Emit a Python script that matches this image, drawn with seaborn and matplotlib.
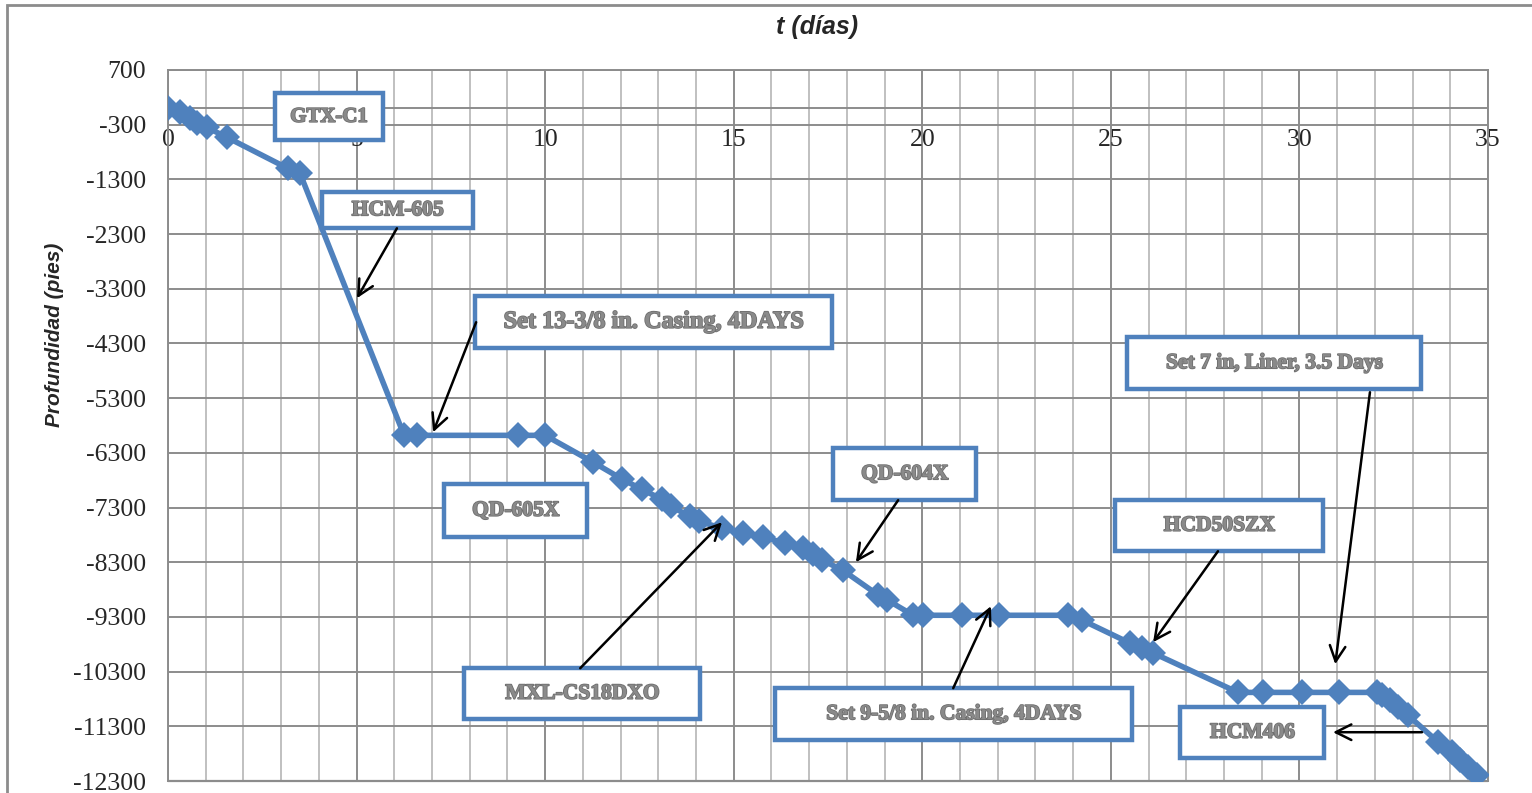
import numpy as np
import pandas as pd
import matplotlib
matplotlib.use("Agg")
import matplotlib.pyplot as plt
import seaborn as sns
from matplotlib.ticker import MultipleLocator, FixedLocator
from matplotlib.patches import Rectangle
import matplotlib.patheffects as pe

# ---- data ----
t_days = [0.0, 0.32, 0.58, 0.77, 1.03, 1.56, 3.18, 3.5,
          6.26, 6.6, 9.28, 10.0,
          11.27, 12.04, 12.57, 13.1, 13.34, 13.84, 14.08, 14.69, 15.25, 15.78,
          16.36, 16.84, 17.1, 17.34, 17.9,
          18.83, 19.07, 19.76, 20.02, 21.05, 22.04, 23.87, 24.24,
          25.51, 25.83, 26.12,
          28.37, 29.04, 30.07, 31.05, 32.06, 32.2, 32.4, 32.62, 32.88,
          33.68, 34.05, 34.27, 34.47, 34.7]
depth_ft = [0, -70, -180, -260, -350, -530, -1100, -1190,
            -5980, -5980, -5980, -5980,
            -6470, -6780, -6970, -7150, -7280, -7460, -7550, -7680, -7770, -7840,
            -7950, -8040, -8150, -8260, -8450,
            -8900, -8990, -9270, -9270, -9270, -9270, -9270, -9360,
            -9780, -9870, -9960,
            -10680, -10680, -10680, -10680, -10680, -10730, -10820, -10950, -11100,
            -11590, -11770, -11920, -12050, -12190]

x_ticks = [0, 5, 10, 15, 20, 25, 30, 35]
y_ticks = [700, -300, -1300, -2300, -3300, -4300, -5300, -6300, -7300,
           -8300, -9300, -10300, -11300, -12300]

labels = ["GTX-C1", "HCM-605", "Set 13-3/8 in. Casing, 4DAYS", "QD-605X",
          "MXL-CS18DXO", "QD-604X", "Set 9-5/8 in. Casing, 4DAYS", "HCD50SZX",
          "Set 7 in, Liner, 3.5 Days", "HCM406"]
label_sizes = [15, 15.5, 17.5, 15.5, 15.5, 15.5, 15.5, 15.5, 15.5, 15.5]

# label boxes (t0, t1, d_top, d_bottom) in data units
boxes = [(2.84, 5.70, 274, -585),
         (4.08, 8.09, -1536, -2194),
         (8.14, 17.61, -3437, -4388),
         (7.32, 11.11, -6874, -7843),
         (7.85, 14.11, -10238, -11170),
         (17.63, 21.43, -6216, -7166),
         (16.10, 25.56, -10603, -11554),
         (25.11, 30.63, -7166, -8099),
         (25.43, 33.23, -4186, -5137),
         (26.84, 30.66, -10951, -11883)]

# arrows (start, tip) in data units; None means no arrow
arrows = [None,
          ((6.07, -2194), (5.01, -3473)),
          ((8.17, -3912), (7.03, -5923)),
          None,
          ((10.93, -10238), (14.69, -7569)),
          ((19.36, -7166), (18.24, -8300)),
          ((20.82, -10603), (21.82, -9104)),
          ((27.84, -8099), (26.12, -9762)),
          ((31.87, -5192), (30.95, -10165)),
          ((33.25, -11408), (30.89, -11408))]

df = pd.DataFrame({"t": t_days, "depth": depth_ft})

BLUE = "#4F81BD"
sns.set_style("white")
plt.rcParams["font.family"] = ["Liberation Serif", "DejaVu Serif"]

fig = plt.figure(figsize=(15.32, 7.93), dpi=100)
ax = fig.add_axes([168 / 1532, 1 - 781 / 793, (1488 - 168) / 1532, (781 - 70) / 793])

# grid
ax.set_xlim(0, 35)
ax.set_ylim(-12300, 700)
ax.xaxis.set_major_locator(FixedLocator(x_ticks))
ax.xaxis.set_minor_locator(MultipleLocator(1))
ax.yaxis.set_major_locator(FixedLocator(y_ticks))
ax.grid(which="major", axis="both", color="#8C8C8C", lw=1.4, zorder=0)
ax.grid(which="minor", axis="x", color="#C0C0C0", lw=1.4, zorder=0)
ax.axhline(0, color="#8C8C8C", lw=1.4, zorder=1)
ax.set_axisbelow(True)
for s in ax.spines.values():
    s.set_color("#8C8C8C")
    s.set_linewidth(1.4)
ax.spines["bottom"].set_visible(False)
ax.axhline(-12300, color="#8C8C8C", lw=1.6, clip_on=False)

ax.tick_params(axis="x", which="both", length=0, pad=15, labelsize=18.5)
ax.tick_params(axis="y", which="major", length=6, width=1.4, color="#8C8C8C",
               pad=10, labelsize=18.5)
ax.set_xticklabels([str(v) for v in x_ticks])
ax.set_yticklabels([str(v) for v in y_ticks])
# put x labels just below the zero line
ax.xaxis.set_ticks_position("bottom")
ax.spines["bottom"].set_position(("data", 0))

sns.lineplot(data=df, x="t", y="depth", ax=ax, estimator=None, sort=False,
             color=BLUE, linewidth=4, marker="D", markersize=13,
             markeredgewidth=0, zorder=3)
ax.set_xlabel("")
ax.set_ylabel("")

# annotation boxes
for lab, fs, (t0, t1, dt, db), arr in zip(labels, label_sizes, boxes, arrows):
    rect = Rectangle((t0, db), t1 - t0, dt - db, facecolor="white",
                     edgecolor=BLUE, lw=3.2, zorder=5)
    ax.add_patch(rect)
    ax.text((t0 + t1) / 2, (dt + db) / 2, lab, ha="center", va="center",
            fontsize=fs, fontweight="bold", color="#8A8A8A", zorder=6,
            family=["Liberation Serif", "DejaVu Serif"],
            path_effects=[pe.withStroke(linewidth=1.2, foreground="#6E6E6E")])
    if arr is not None:
        ax.annotate("", xy=arr[1], xytext=arr[0],
                    arrowprops=dict(arrowstyle="->", color="black", lw=1.8,
                                    mutation_scale=28, shrinkA=0, shrinkB=0),
                    zorder=7)

# titles
fig.text(817 / 1532, 1 - 27 / 793, "t (días)", ha="center", va="center",
         fontsize=18, fontweight="bold", style="italic",
         family=["Liberation Sans", "DejaVu Sans"])
fig.text(55 / 1532, 1 - 335 / 793, "Profundidad (pies)", ha="center",
         va="center", rotation=90, fontsize=15, fontweight="bold",
         style="italic", family=["Liberation Sans", "DejaVu Sans"])

# outer chart frame
fig.patches.append(Rectangle((7 / 1532, -0.05), 1.2, 1 - 5 / 793 + 0.05,
                             transform=fig.transFigure, fill=False,
                             edgecolor="#8C8C8C", lw=2))

fig.savefig("out.png", dpi=100)
